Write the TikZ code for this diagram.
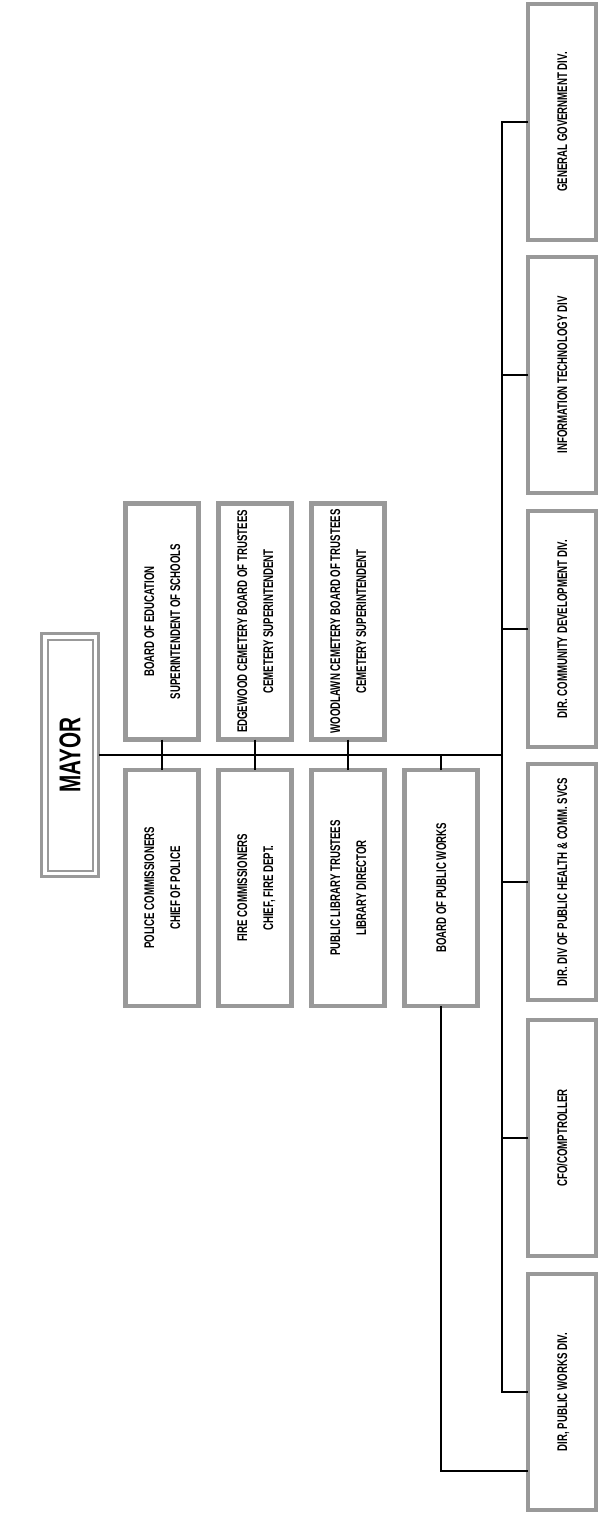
\documentclass[tikz,border=0pt]{standalone}
\usepackage{graphicx}
\usepackage{fontspec}
\setmainfont{Liberation Sans}[FakeStretch=0.69]
\newcommand{\vtext}[1]{\rotatebox{90}{\begin{tabular}{@{}c@{}}#1\end{tabular}}}
\begin{document}
\begin{tikzpicture}[x=1pt,y=-1pt,
  box/.style={draw=black!40, line width=4.5pt, inner sep=0pt, outer sep=0pt,
    font=\fontsize{14}{26}\selectfont\bfseries},
  leftbox/.style={box, minimum width=73pt, minimum height=236pt},
  rightbox/.style={box, minimum width=68pt, minimum height=236pt},
  link/.style={draw=black, line width=1.3pt}]
\useasboundingbox (0,0) rectangle (600,1515);

% Mayor
\node[draw=black!40, line width=3pt, inner sep=0pt, outer sep=0pt,
  minimum width=57pt, minimum height=243pt,
  font=\fontsize{30}{30}\selectfont\bfseries] (mayor) at (70,755) {\rotatebox{90}{MAYOR}};
\draw[black!40, line width=2pt] ([shift={(6pt,-6pt)}]mayor.north west) rectangle ([shift={(-6pt,6pt)}]mayor.south east);

% upper boxes
\node[leftbox] (boe) at (162,621.5) {\vtext{BOARD OF EDUCATION\\SUPERINTENDENT OF SCHOOLS}};
\node[leftbox] (edge) at (255,621.5) {\vtext{EDGEWOOD CEMETERY BOARD OF TRUSTEES\\CEMETERY SUPERINTENDENT}};
\node[leftbox] (wood) at (348,621.5) {\vtext{WOODLAWN CEMETERY BOARD OF TRUSTEES\\CEMETERY SUPERINTENDENT}};

% lower boxes
\node[leftbox] (police) at (162,888) {\vtext{POLICE COMMISSIONERS\\CHIEF OF POLICE}};
\node[leftbox] (fire) at (255,888) {\vtext{FIRE COMMISSIONERS\\CHIEF, FIRE DEPT.}};
\node[leftbox] (lib) at (348,888) {\vtext{PUBLIC LIBRARY TRUSTEES\\LIBRARY DIRECTOR}};
\node[leftbox] (bpw) at (441,888) {\vtext{BOARD OF PUBLIC WORKS}};

% right column
\node[rightbox] (gg) at (562,122) {\vtext{GENERAL GOVERNMENT DIV.}};
\node[rightbox] (it) at (562,375) {\vtext{INFORMATION TECHNOLOGY DIV}};
\node[rightbox] (dcd) at (562,629) {\vtext{DIR. COMMUNITY DEVELOPMENT DIV.}};
\node[rightbox] (ph) at (562,882) {\vtext{DIR. DIV OF PUBLIC HEALTH \& COMM. SVCS}};
\node[rightbox] (cfo) at (562,1138) {\vtext{CFO/COMPTROLLER}};
\node[rightbox] (dpw) at (562,1392) {\vtext{DIR, PUBLIC WORKS DIV.}};

% connectors
\coordinate (trunk) at (502,755);
\draw[link] (mayor.east) -- (trunk);
\draw[link] (gg.west) -- (gg.west -| trunk) -- (dpw.west -| trunk) -- (dpw.west);
\foreach \n in {it,dcd,ph,cfo} \draw[link] (\n.west) -- (\n.west -| trunk);
\draw[link] (boe.south) -- (police.north);
\draw[link] (edge.south) -- (fire.north);
\draw[link] (wood.south) -- (lib.north);
\draw[link] (bpw.north) -- (bpw.north |- trunk);
\draw[link] (bpw.south) |- ([yshift=-79pt]dpw.west);
\end{tikzpicture}
\end{document}
